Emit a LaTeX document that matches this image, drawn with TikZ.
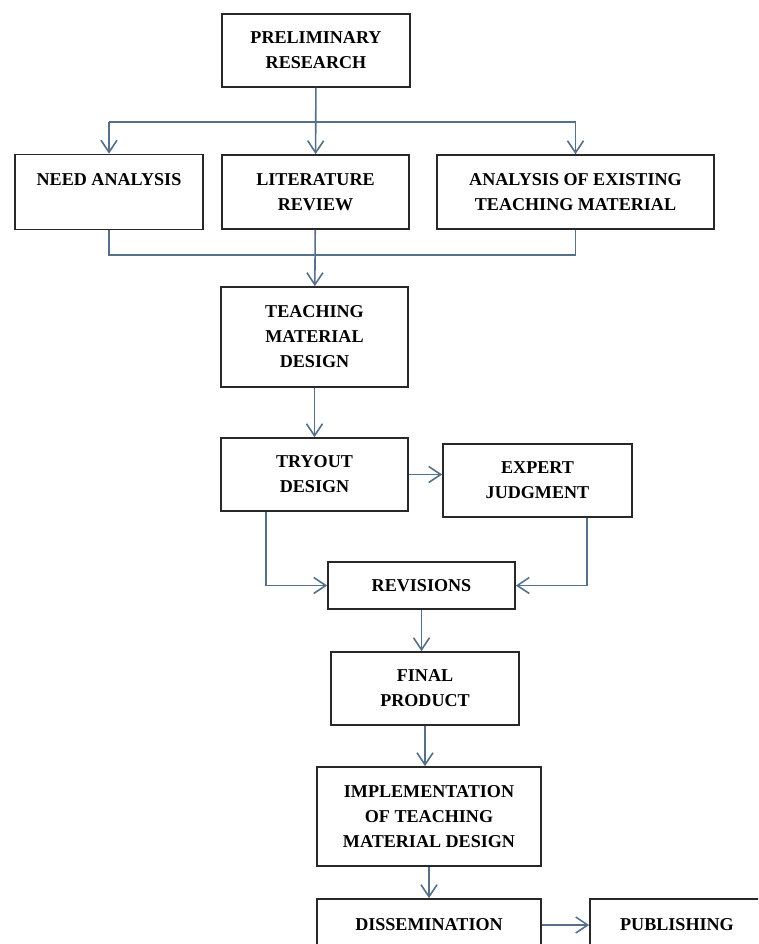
\documentclass[tikz,border=0pt]{standalone}
\usepackage{fontspec}
\setmainfont{Liberation Serif}
\usetikzlibrary{arrows.meta}
\definecolor{lncol}{RGB}{84,112,138}
\definecolor{bxcol}{RGB}{40,40,40}

\begin{document}
\begin{tikzpicture}[x=0.02cm,y=-0.02cm,
  blk/.style={rectangle,draw=bxcol,line width=1pt,align=center,inner sep=0pt,font=\fontsize{10.3}{14.2}\selectfont\bfseries},
  ln/.style={draw=lncol,line width=0.9pt},
  arr/.style={ln,-{Straight Barb[length=2.4mm,width=3.2mm]}}]
  \useasboundingbox (0,0) rectangle (758,944);
  \clip (0,0) rectangle (758,944);

  \node[blk,minimum width=3.76cm,minimum height=1.46cm] (pr) at (316,50.5) {PRELIMINARY\\RESEARCH};
  \node[blk,minimum width=3.76cm,minimum height=1.5cm] (na) at (109,192) {NEED ANALYSIS\\\mbox{}};
  \node[blk,minimum width=3.74cm,minimum height=1.48cm] (lr) at (315.5,192) {LITERATURE\\REVIEW};
  \node[blk,minimum width=5.54cm,minimum height=1.48cm] (ae) at (575.5,192) {ANALYSIS OF EXISTING\\TEACHING MATERIAL};
  \node[blk,minimum width=3.74cm,minimum height=2cm] (tm) at (314.5,337) {TEACHING\\MATERIAL\\DESIGN};
  \node[blk,minimum width=3.74cm,minimum height=1.46cm] (to) at (314.5,474.5) {TRYOUT\\DESIGN};
  \node[blk,minimum width=3.78cm,minimum height=1.46cm] (ej) at (537.5,480.5) {EXPERT\\JUDGMENT};
  \node[blk,minimum width=3.74cm,minimum height=0.94cm] (rv) at (421.5,585.5) {REVISIONS};
  \node[blk,minimum width=3.76cm,minimum height=1.46cm] (fp) at (425,688.5) {FINAL\\PRODUCT};
  \node[blk,minimum width=4.48cm,minimum height=1.98cm] (im) at (429,816.5) {IMPLEMENTATION\\OF TEACHING\\MATERIAL DESIGN};
  \node[blk,minimum width=4.48cm,minimum height=1.04cm] (ds) at (429,925) {DISSEMINATION};
  \node[blk,minimum width=3.48cm,minimum height=1.04cm] (pb) at (677,925) {PUBLISHING};

  \coordinate (split) at (316,122);
  \coordinate (merge) at (316,255);

  \draw[arr] (pr) -- (lr);
  \draw[ln] (na |- split) -- (ae |- split);
  \draw[arr] (na |- split) -- (na);
  \draw[arr] (ae |- split) -- (ae);
  \draw[ln] (na.south) |- (merge) -| (ae.south);
  \draw[arr] (lr) -- (tm);
  \draw[arr] (tm) -- (to);
  \draw[arr] (to.east) -- (to.east -| ej.west);
  \draw[arr] ([xshift=-0.97cm]to.south) |- (rv.west);
  \draw[arr] ([xshift=0.99cm]ej.south) |- (rv.east);
  \draw[arr] (rv.south) -- (rv.south |- fp.north);
  \draw[arr] (fp.south) -- (fp.south |- im.north);
  \draw[arr] (im) -- (ds);
  \draw[arr] (ds) -- (pb);
\end{tikzpicture}
\end{document}
